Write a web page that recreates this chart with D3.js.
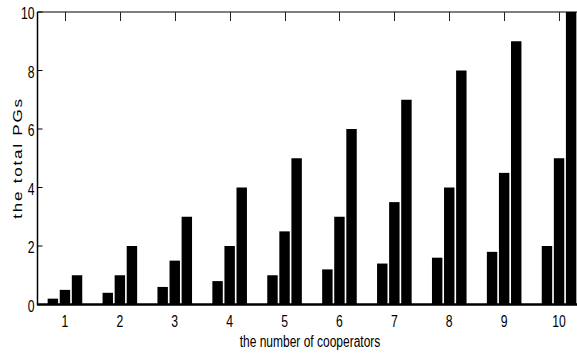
<!DOCTYPE html>
<html><head><meta charset="utf-8">
<script src="https://cdn.jsdelivr.net/npm/d3@7"></script>
<style>body{margin:0;background:#fff;}svg{display:block;}</style>
</head><body>
<svg id="c" width="577" height="354"></svg>
<script>
const categories = [1,2,3,4,5,6,7,8,9,10];
const seriesA = [0.2,0.4,0.6,0.8,1.0,1.2,1.4,1.6,1.8,2.0];
const seriesB = [0.5,1.0,1.5,2.0,2.5,3.0,3.5,4.0,4.5,5.0];
const seriesC = [1,2,3,4,5,6,7,8,9,10];
const yTicks = [0,2,4,6,8,10];
const xLabel = "the number of cooperators";
const yLabel = "the total PGs";

const svg = d3.select("#c");
const L = 37.5, R = 586.5, T = 12, B = 304.5;
const x = d3.scaleLinear().domain([0.5,10.5]).range([L,R]);
const y = d3.scaleLinear().domain([0,10]).range([B,T]);
const series = [seriesA, seriesB, seriesC];
const offs = [-0.22, 0, 0.22];
const bw = 0.19;
const font = "'Liberation Sans',Arial,sans-serif";
const sx = 0.74;

const g = svg.append("g");
series.forEach((s,si)=>{
  g.selectAll(null).data(categories).enter().append("rect")
    .attr("x", (c,i)=> x(c+offs[si]-bw/2))
    .attr("width", (c,i)=> x(c+offs[si]+bw/2)-x(c+offs[si]-bw/2))
    .attr("y", (c,i)=> y(s[i]))
    .attr("height", (c,i)=> y(0)-y(s[i]))
    .attr("fill","#000");
});

svg.append("line").attr("x1",L).attr("x2",577).attr("y1",T).attr("y2",T).attr("stroke","#000").attr("stroke-width",1.2);
svg.append("line").attr("x1",L).attr("x2",577).attr("y1",B).attr("y2",B).attr("stroke","#000").attr("stroke-width",2.5);
svg.append("line").attr("x1",L).attr("x2",L).attr("y1",T).attr("y2",B+1).attr("stroke","#000").attr("stroke-width",1.5);

svg.selectAll(null).data(categories).enter().append("line")
  .attr("x1",d=>Math.round(x(d))+0.5).attr("x2",d=>Math.round(x(d))+0.5)
  .attr("y1",T).attr("y2",T+9).attr("stroke","#222").attr("stroke-width",1);
svg.selectAll(null).data(yTicks).enter().append("line")
  .attr("x1",L).attr("x2",L+5).attr("y1",d=>y(d)).attr("y2",d=>y(d))
  .attr("stroke","#000").attr("stroke-width",1);

svg.selectAll(null).data(yTicks).enter().append("text")
  .attr("transform",d=>`translate(34.5,${y(d)+7}) scale(${sx},1)`).attr("text-anchor","end")
  .attr("font-family",font).attr("font-size",16.5).text(d=>d);
svg.selectAll(null).data(categories).enter().append("text")
  .attr("transform",d=>`translate(${x(d)},327) scale(${sx},1)`).attr("text-anchor","middle")
  .attr("font-family",font).attr("font-size",16.5).text(d=>d);

svg.append("text").attr("transform","translate(310,346.5) scale(0.75,1)").attr("text-anchor","middle")
  .attr("font-family",font).attr("font-size",16).text(xLabel);
svg.append("text").attr("transform","translate(22,158) rotate(-90) scale(1,0.75)").attr("text-anchor","middle")
  .attr("font-family",font).attr("font-size",17).attr("letter-spacing","1.8px").text(yLabel);
</script>
</body></html>
